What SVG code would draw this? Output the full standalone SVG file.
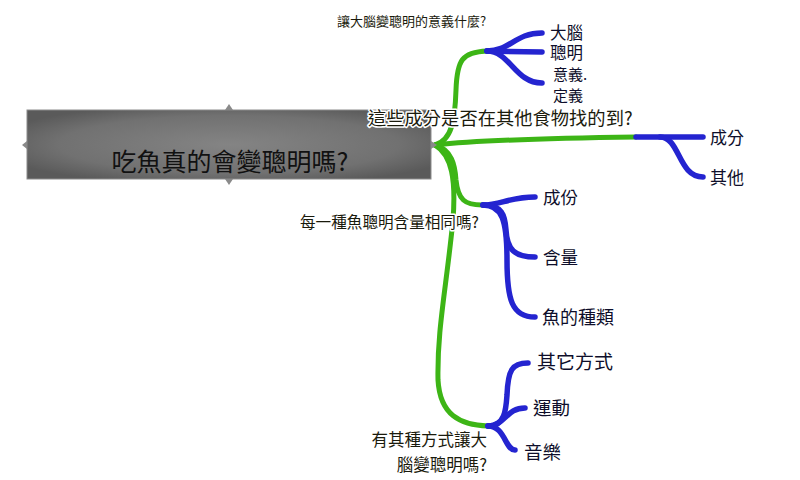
<svg xmlns="http://www.w3.org/2000/svg" width="800" height="480" viewBox="0 0 800 480">
<defs>
<radialGradient id="boxg" cx="50%" cy="50%" r="60%">
<stop offset="0" stop-color="#848484"/>
<stop offset="0.7" stop-color="#717171"/>
<stop offset="1" stop-color="#5a5a5a"/>
</radialGradient>
<style>
text{font-family:"Noto Sans CJK TC","Noto Sans CJK SC",sans-serif;}
.g{fill:none;stroke:#3db516;stroke-width:5;stroke-linecap:round;}
.b{fill:none;stroke:#2424d0;stroke-width:5.5;stroke-linecap:round;}
.bl{fill:#1a1a0c;paint-order:stroke;stroke:#ffffff;stroke-width:3;stroke-linejoin:round;}
.lf{fill:#0e0e2a;}
.notch{fill:#8a8a8a;}
</style>
</defs>
<rect width="800" height="480" fill="#ffffff"/>
<g id="connectors">
<path class="g" d="M435,145 C452,140 455,120 456,90 C457,60 462,52 487,51"/>
<path class="g" d="M435,145 C480,140 560,138 636,137"/>
<path class="g" d="M435,145 C452,150 455,165 456,180 C458,200 465,205 482,205"/>
<path class="g" d="M435,145 C452,155 456,180 453,220 C446,290 437,330 438,380 C440,415 460,425 488,426"/>
<path class="b" d="M487,51 C510,51 515,33 542,33"/>
<path class="b" d="M487,51 L542,52"/>
<path class="b" d="M487,51 C510,51 515,83 542,83"/>
<path class="b" d="M636,137 L703,137"/>
<path class="b" d="M660,137 C680,137 678,177 703,177"/>
<path class="b" d="M483,205 C500,205 510,197 535,197"/>
<path class="b" d="M483,205 C502,205 505,215 506,230 C507,250 515,257 535,257"/>
<path class="b" d="M483,205 C502,205 507,220 507,260 C507,300 512,317 535,317"/>
<path class="b" d="M488,426 C505,426 506,410 507,395 C508,370 512,363 528,363"/>
<path class="b" d="M488,426 C505,426 506,408 525,408"/>
<path class="b" d="M488,426 C505,426 505,450 515,450"/>
</g>
<g id="root">
<rect x="27" y="110" width="404" height="69" fill="url(#boxg)" stroke="#8c8c8c" stroke-width="1"/>
<path class="notch" d="M229,104 L233,110 L225,110 Z"/>
<path class="notch" d="M229,185 L233,179 L225,179 Z"/>
<path class="notch" d="M22,145 L27,141 L27,149 Z"/>
<path class="notch" d="M437,145 L431,141 L431,149 Z"/>
<text x="230" y="171" font-size="25" text-anchor="middle" fill="#111111">吃魚真的會變聰明嗎?</text>
</g>
<g id="branch1">
<text class="bl" x="337" y="26" font-size="13">讓大腦變聰明的意義什麼?</text>
</g>
<g id="leaf-brain"><text class="lf" x="550" y="39" font-size="16.5">大腦</text></g>
<g id="leaf-smart"><text class="lf" x="550" y="59" font-size="16.5">聰明</text></g>
<g id="leaf-meaning"><text class="lf" x="553" y="80" font-size="15">意義.</text></g>
<g id="leaf-define"><text class="lf" x="553" y="101" font-size="15">定義</text></g>
<g id="branch2">
<text class="bl" x="368" y="125" font-size="18.3">這些成分是否在其他食物找的到?</text>
</g>
<g id="leaf-ingredient"><text class="lf" x="710" y="144" font-size="17">成分</text></g>
<g id="leaf-other"><text class="lf" x="710" y="184" font-size="17">其他</text></g>
<g id="branch3">
<text class="bl" x="300" y="228" font-size="15.6">每一種魚聰明含量相同嗎?</text>
</g>
<g id="leaf-component"><text class="lf" x="543" y="204" font-size="17.5">成份</text></g>
<g id="leaf-amount"><text class="lf" x="543" y="264" font-size="17.5">含量</text></g>
<g id="leaf-kind"><text class="lf" x="542" y="324" font-size="18">魚的種類</text></g>
<g id="branch4">
<text class="bl" x="487" y="446" font-size="16.5" text-anchor="end">有其種方式讓大</text>
<text class="bl" x="487" y="471" font-size="16.5" text-anchor="end">腦變聰明嗎?</text>
</g>
<g id="leaf-ways"><text class="lf" x="537" y="369" font-size="19">其它方式</text></g>
<g id="leaf-exercise"><text class="lf" x="533" y="415" font-size="18.5">運動</text></g>
<g id="leaf-music"><text class="lf" x="524" y="459" font-size="18.5">音樂</text></g>
</svg>
